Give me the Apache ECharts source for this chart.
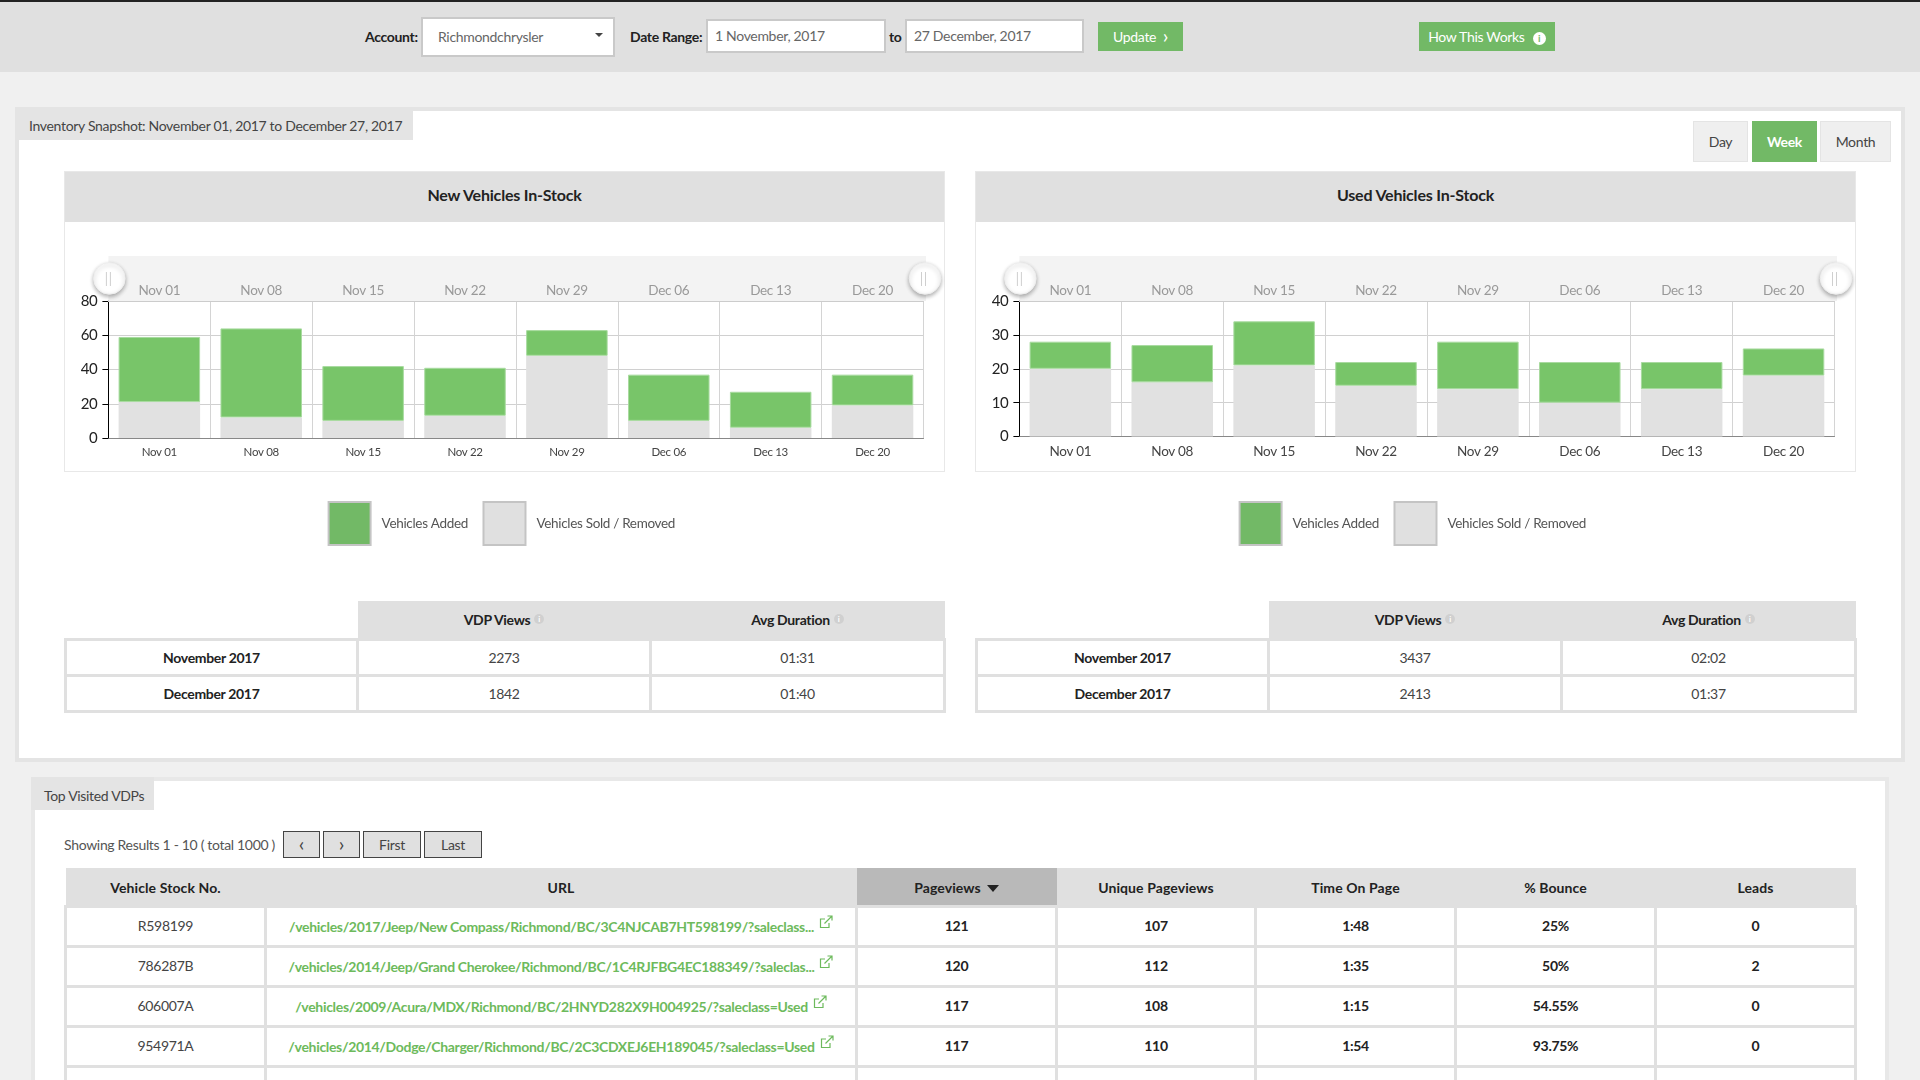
<!DOCTYPE html>
<html>
<head>
<meta charset="utf-8">
<title>Inventory Snapshot</title>
<script src="https://cdn.jsdelivr.net/npm/echarts@6/dist/echarts.min.js"></script>
<style>
  html, body { margin: 0; padding: 0; }
  body { width: 1920px; height: 1080px; overflow: hidden; position: relative; background: #f0f0f0; font-family: Lato, "Noto Sans", sans-serif; font-size: 14px; letter-spacing: -0.32px; color: #333; }
  .abs { position: absolute; box-sizing: border-box; }
  .lbl { font-weight: 700; color: #222; line-height: 20px; white-space: nowrap; }
  .field { background: #fff; border: 2px solid #c9c9c9; color: #666; line-height: 30px; padding-left: 7px; white-space: nowrap; }
  .btn { background: #72b966; color: #fff; text-align: center; line-height: 29px; white-space: nowrap; }
  .panel { background: #fff; border: 4px solid #e4e4e4; }
  .tab { background: #e4e4e4; color: #444; line-height: 29px; white-space: nowrap; }
  .toggle { background: #efefef; border: 1px solid #e4e4e4; text-align: center; line-height: 39px; color: #444; }
  .card { background: #fff; border: 1px solid #e8e8e8; }
  .card-head { background: #e0e0e0; text-align: center; font-weight: 700; font-size: 16px; letter-spacing: -0.2px; color: #222; line-height: 46px; height: 50px; }
  .pager { background: #e0e0e0; border: 1px solid #444; text-align: center; line-height: 25px; color: #444; }
  .chev { font-size: 20px; line-height: 20px; vertical-align: -1px; }
  table { position: absolute; border-collapse: collapse; table-layout: fixed; text-align: center; }
  th { background: #e0e0e0; color: #222; font-weight: 700; padding: 0; }
  td { border: 3px solid #e0e0e0; background: #fff; padding: 0; color: #444; }
  .info { display: inline-block; width: 10px; height: 10px; border-radius: 50%; background: #d0d0d0; color: #fff; font-size: 8px; line-height: 10px; vertical-align: 3px; margin-left: 4px; font-weight: 700; letter-spacing: 0; }
  .sorted { background: #b9b9b9; }
  .caret { display: inline-block; border-left: 6px solid transparent; border-right: 6px solid transparent; border-top: 7px solid #222; margin-left: 6px; vertical-align: 1px; }
  #topVdps td { padding-bottom: 2px; }
  #topVdps th { padding-top: 2px; letter-spacing: 0.1px; }
  td a { color: #6dba5c; font-weight: 700; text-decoration: none; white-space: nowrap; }
  td svg { vertical-align: 3px; margin-left: 5px; }
  .chart { position: absolute; }
</style>
</head>
<body>
<div class="abs" style="left:0;top:0;width:1920px;height:72px;background:#e0e0e0;border-top:2px solid #222"></div>
<div class="abs lbl" style="left:365px;top:27px">Account:</div>
<div class="abs field" style="left:421px;top:17px;width:194px;height:40px;line-height:36px;padding-left:15px">Richmondchrysler</div>
<div class="abs" style="left:595px;top:33px;border-left:4px solid transparent;border-right:4px solid transparent;border-top:4px solid #444"></div>
<div class="abs lbl" style="left:630px;top:27px">Date Range:</div>
<div class="abs field" style="left:706px;top:19px;width:180px;height:34px">1 November, 2017</div>
<div class="abs lbl" style="left:889px;top:27px">to</div>
<div class="abs field" style="left:905px;top:19px;width:179px;height:34px">27 December, 2017</div>
<div class="abs btn" style="left:1098px;top:22px;width:85px;height:29px">Update &nbsp;<span class="chev">›</span></div>
<div class="abs btn" style="left:1419px;top:22px;width:136px;height:29px">How This Works <span class="info" style="width:13px;height:13px;line-height:13px;font-size:10px;background:#fff;color:#72b966;vertical-align:0;margin-left:5px">i</span></div>

<div class="abs panel" style="left:15px;top:107px;width:1890px;height:655px"></div>
<div class="abs tab" style="left:15px;top:111px;width:398px;height:29px;padding-left:14px">Inventory Snapshot: November 01, 2017 to December 27, 2017</div>
<div class="abs toggle" style="left:1693px;top:121px;width:55px;height:41px">Day</div>
<div class="abs toggle" style="left:1752px;top:121px;width:65px;height:41px;background:#72b966;border-color:#72b966;color:#fff;font-weight:700">Week</div>
<div class="abs toggle" style="left:1820px;top:121px;width:71px;height:41px">Month</div>

<div class="abs card" style="left:64px;top:171px;width:881px;height:301px"><div class="card-head">New Vehicles In-Stock</div></div>
<div class="abs card" style="left:975px;top:171px;width:881px;height:301px"><div class="card-head">Used Vehicles In-Stock</div></div>
<div class="chart" id="chartNew" style="left:64px;top:221px;width:881px;height:330px"></div>
<div class="chart" id="chartUsed" style="left:975px;top:221px;width:881px;height:330px"></div>

<table id="summaryNew" style="left:64px;top:601px;width:879px"></table>
<table id="summaryUsed" style="left:975px;top:601px;width:879px"></table>

<div class="abs panel" style="left:31px;top:777px;width:1858px;height:340px;border-color:#e8e8e8"></div>
<div class="abs tab" style="left:31px;top:777px;width:123px;height:33px;line-height:37px;padding-left:13px">Top Visited VDPs</div>
<div class="abs" style="left:64px;top:835px;line-height:20px;color:#555;white-space:nowrap">Showing Results 1 - 10 ( total 1000 )</div>
<div class="abs pager" style="left:283px;top:831px;width:37px;height:27px"><span class="chev">‹</span></div>
<div class="abs pager" style="left:323px;top:831px;width:37px;height:27px"><span class="chev">›</span></div>
<div class="abs pager" style="left:363px;top:831px;width:58px;height:27px">First</div>
<div class="abs pager" style="left:424px;top:831px;width:58px;height:27px">Last</div>
<table id="topVdps" style="left:64px;top:868px;width:1790px"></table>

<script>
const weekLabels = ['Nov 01', 'Nov 08', 'Nov 15', 'Nov 22', 'Nov 29', 'Dec 06', 'Dec 13', 'Dec 20'];
const newSold = [21, 12, 10, 13, 48, 10, 6, 19];
const newAdded = [38, 52, 32, 28, 15, 27, 21, 18];
const usedSold = [20, 16, 21, 15, 14, 10, 14, 18];
const usedAdded = [8, 11, 13, 7, 14, 12, 8, 8];

const summaryMonths = ['November 2017', 'December 2017'];
const newViews = ['2273', '1842'];
const newDuration = ['01:31', '01:40'];
const usedViews = ['3437', '2413'];
const usedDuration = ['02:02', '01:37'];

const topHeaders = ['Vehicle Stock No.', 'URL', 'Pageviews', 'Unique Pageviews', 'Time On Page', '% Bounce', 'Leads'];
const topColWidths = [200, 591, 200, 199, 200, 200, 200];
const stockNos = ['R598199', '786287B', '606007A', '954971A'];
const urls = [
  '/vehicles/2017/Jeep/New Compass/Richmond/BC/3C4NJCAB7HT598199/?saleclass...',
  '/vehicles/2014/Jeep/Grand Cherokee/Richmond/BC/1C4RJFBG4EC188349/?saleclas...',
  '/vehicles/2009/Acura/MDX/Richmond/BC/2HNYD282X9H004925/?saleclass=Used',
  '/vehicles/2014/Dodge/Charger/Richmond/BC/2C3CDXEJ6EH189045/?saleclass=Used'
];
const pageviews = ['121', '120', '117', '117'];
const uniquePageviews = ['107', '112', '108', '110'];
const timeOnPage = ['1:48', '1:35', '1:15', '1:54'];
const bounce = ['25%', '50%', '54.55%', '93.75%'];
const leads = ['0', '2', '0', '0'];

const FONT = 'Lato';
const linkIcon = '<svg width="14" height="14" viewBox="0 0 14 14" fill="none" stroke="#6dba5c" stroke-width="1.2"><path d="M10 8v4.5H1.5V4H6"/><path d="M5.5 8.5L12.5 1.5M8.5 1h4.5v4.5"/></svg>';

const buildChart = (domId, sold, added, yMax, yInterval, plotHeight, labelSize) => {
    const chart = echarts.init(document.getElementById(domId));
    const plotLeft = 44.4;
    const plotRight = 21.5;
    const handleBars = (cx) => [cx - 2, cx + 2].map((x) => ({
        type: 'line',
        shape: { x1: x, y1: 51, x2: x, y2: 65 },
        style: { stroke: '#cfcfcf', lineWidth: 1 },
        z: 100
    }));
    chart.setOption({
        animation: false,
        textStyle: { fontFamily: FONT },
        grid: { left: plotLeft, right: plotRight, top: 80, height: plotHeight },
        legend: {
            left: 263.6,
            top: 280,
            padding: 0,
            itemWidth: 42,
            itemHeight: 43,
            itemGap: 10,
            icon: 'rect',
            selectedMode: false,
            data: [
                { name: 'Vehicles Added', itemStyle: { color: '#72b966' } },
                { name: 'Vehicles Sold / Removed', itemStyle: { color: '#e0e0e0' } }
            ],
            itemStyle: { borderColor: '#c4c4c4', borderWidth: 2 },
            textStyle: { fontFamily: FONT, fontSize: 13.5, color: '#555', padding: [2, 0, 0, 6] }
        },
        dataZoom: [{
            type: 'slider',
            xAxisIndex: 0,
            left: plotLeft - 1.5,
            right: plotRight - 1,
            top: 35,
            height: 45,
            start: 0,
            end: 100,
            showDetail: false,
            showDataShadow: false,
            brushSelect: false,
            moveHandleSize: 0,
            backgroundColor: '#f3f3f3',
            borderColor: 'transparent',
            fillerColor: 'transparent',
            handleIcon: 'circle',
            handleSize: '70%',
            handleStyle: { color: '#fff', borderColor: '#eeeeee', shadowBlur: 4, shadowColor: 'rgba(0,0,0,0.3)', shadowOffsetY: 2 }
        }],
        xAxis: [{
            type: 'category',
            data: weekLabels,
            axisLine: { lineStyle: { color: '#888' } },
            axisTick: { show: false },
            splitLine: { show: true, interval: 0, lineStyle: { color: '#d4d4d4' } },
            axisLabel: { margin: 8, fontFamily: FONT, fontSize: labelSize, color: '#444' }
        }, {
            type: 'category',
            position: 'top',
            z: 6,
            data: weekLabels,
            axisLine: { show: true, lineStyle: { color: '#ccc' } },
            axisTick: { show: false },
            axisLabel: { margin: 3, fontFamily: FONT, fontSize: 13.5, color: '#999' }
        }],
        yAxis: {
            type: 'value',
            min: 0,
            max: yMax,
            interval: yInterval,
            axisLine: { show: true, lineStyle: { color: '#000' } },
            axisTick: { show: true, length: 6, lineStyle: { color: '#000' } },
            splitLine: { lineStyle: { color: '#d0d0d0' } },
            axisLabel: { margin: 11, fontFamily: FONT, fontSize: 15, color: '#222' }
        },
        series: [{
            name: 'Vehicles Sold / Removed',
            type: 'bar',
            stack: 'stock',
            barWidth: '80%',
            data: sold,
            itemStyle: { color: '#e1e1e1' }
        }, {
            name: 'Vehicles Added',
            type: 'bar',
            stack: 'stock',
            barWidth: '80%',
            data: added,
            itemStyle: { color: '#78c569', borderColor: '#a9dba0', borderWidth: 1 }
        }],
        graphic: [...handleBars(plotLeft), ...handleBars(881 - plotRight)]
    });
    return chart;
};

buildChart('chartNew', newSold, newAdded, 80, 20, 137, 11.5);
buildChart('chartUsed', usedSold, usedAdded, 40, 10, 135.6, 13.5);

const fillSummary = (domId, views, durations) => {
    let html = '<colgroup><col style="width:292px"><col style="width:293px"><col style="width:294px"></colgroup>';
    html += '<tr style="height:38px"><th style="background:transparent"></th>'
        + '<th>VDP Views<span class="info">i</span></th><th>Avg Duration<span class="info">i</span></th></tr>';
    summaryMonths.forEach((month, i) => {
        html += '<tr style="height:36px"><td style="font-weight:700;color:#222">' + month + '</td><td>' + views[i] + '</td><td>' + durations[i] + '</td></tr>';
    });
    document.getElementById(domId).innerHTML = html;
};
fillSummary('summaryNew', newViews, newDuration);
fillSummary('summaryUsed', usedViews, usedDuration);

let topHtml = '<colgroup>' + topColWidths.map((w) => '<col style="width:' + w + 'px">').join('') + '</colgroup>';
topHtml += '<tr style="height:38px">' + topHeaders.map((h, i) => i == 2
    ? '<th class="sorted">' + h + '<span class="caret"></span></th>'
    : '<th>' + h + '</th>').join('') + '</tr>';
stockNos.forEach((stock, i) => {
    topHtml += '<tr style="height:40px"><td>' + stock + '</td>'
        + '<td><a>' + urls[i] + '</a>' + linkIcon + '</td>'
        + [pageviews, uniquePageviews, timeOnPage, bounce, leads].map((col) => '<td style="font-weight:700;color:#222">' + col[i] + '</td>').join('')
        + '</tr>';
});
// fifth row is cut off by the window, only its cell borders can be read
topHtml += '<tr style="height:40px">' + topHeaders.map(() => '<td></td>').join('') + '</tr>';
document.getElementById('topVdps').innerHTML = topHtml;
</script>
</body>
</html>
